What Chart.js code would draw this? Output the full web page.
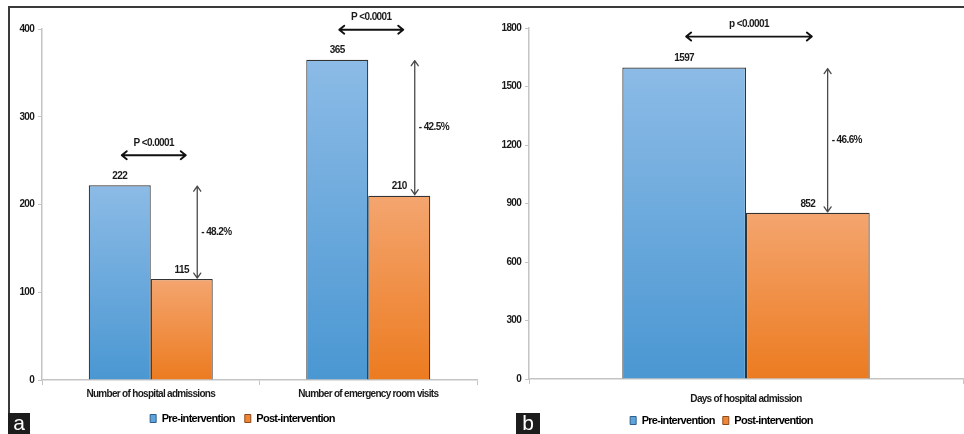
<!DOCTYPE html>
<html>
<head>
<meta charset="utf-8">
<script src="https://cdn.jsdelivr.net/npm/chart.js@4.4.0/dist/chart.umd.min.js"></script>
<style>
    body { margin: 0; background: #fff; overflow: hidden; }
    #frame { position: absolute; left: 8px; top: 6px; width: 956px; height: 428px; border-top: 2px solid #3a3a3a; border-left: 2px solid #3a3a3a; box-sizing: border-box; }
    .panel { position: absolute; top: 0; }
    #panelA { left: 0; width: 480px; height: 434px; }
    #panelB { left: 480px; width: 484px; height: 436px; }
    .tag { position: absolute; top: 413px; height: 21px; background: #1c1c1c; color: #fff; font: 21px 'Liberation Sans', Arial, sans-serif; line-height: 19px; text-align: center; }
</style>
</head>
<body>
<div id="frame"></div>
<div class="panel" id="panelA"><canvas id="chartA"></canvas></div>
<div class="panel" id="panelB"><canvas id="chartB"></canvas></div>
<div class="tag" style="left:8px;width:22px;">a</div>
<div class="tag" style="left:516px;width:24px;">b</div>
<script>
// Panel a data
const categoriesA = ['Number of hospital admissions', 'Number of emergency room visits'];
const preA = [222, 365];
const postA = [115, 210];
const pValuesA = ['P <0.0001', 'P <0.0001'];
const changesA = ['- 48.2%', '- 42.5%'];
const ticksA = [0, 100, 200, 300, 400];

// Panel b data
const categoriesB = ['Days of hospital admission'];
const preB = [1597];
const postB = [852];
const pValuesB = ['p <0.0001'];
const changesB = ['- 46.6%'];
const ticksB = [0, 300, 600, 900, 1200, 1500, 1800];

const seriesNames = ['Pre-intervention', 'Post-intervention'];

const FONT = "'Liberation Sans', Arial, sans-serif";

// vertical gradient per bar, from its top down to zero
function barGradient(top, bottom) {
    return function(ctx) {
        const chart = ctx.chart;
        if (!chart.chartArea || ctx.type !== 'data') return bottom;
        const y = chart.scales.y;
        const g = chart.ctx.createLinearGradient(0, y.getPixelForValue(ctx.raw), 0, y.getPixelForValue(0));
        g.addColorStop(0, top);
        g.addColorStop(1, bottom);
        return g;
    };
}

function drawArrow(c, x1, y1, x2, y2, color, width, head, half) {
    const ang = Math.atan2(y2 - y1, x2 - x1);
    c.save();
    c.strokeStyle = color;
    c.lineWidth = width;
    c.lineCap = 'round';
    c.lineJoin = 'round';
    c.beginPath();
    c.moveTo(x1, y1);
    c.lineTo(x2, y2);
    [[x1, y1, ang + Math.PI], [x2, y2, ang]].forEach(([x, y, a]) => {
        c.moveTo(x - head * Math.cos(a) - half * Math.sin(a), y - head * Math.sin(a) + half * Math.cos(a));
        c.lineTo(x, y);
        c.lineTo(x - head * Math.cos(a) + half * Math.sin(a), y - head * Math.sin(a) - half * Math.cos(a));
    });
    c.stroke();
    c.restore();
}

// squeeze the text a little, the original uses a narrow font
const tightText = {
    id: 'tightText',
    beforeLayout(chart) { chart.ctx.letterSpacing = '-0.7px'; },
    beforeDraw(chart) { chart.ctx.letterSpacing = '-0.7px'; }
};

// value labels, p-value arrows and change arrows
const comparisonMarks = {
    id: 'comparisonMarks',
    afterDatasetsDraw(chart, args, opts) {
        const c = chart.ctx;
        const pre = chart.getDatasetMeta(0).data;
        const post = chart.getDatasetMeta(1).data;
        c.save();
        c.fillStyle = '#1a1a1a';
        c.letterSpacing = '-0.6px';
        pre.forEach((bar, i) => {
            const nxt = post[i];
            c.font = 'bold 10px ' + FONT;
            c.textAlign = 'center';
            c.textBaseline = 'middle';
            c.fillText(chart.data.datasets[0].data[i], bar.x, bar.y - 9);
            c.fillText(chart.data.datasets[1].data[i], nxt.x, nxt.y - 9);

            const hy = bar.y - opts.pGap;
            drawArrow(c, bar.x + 2, hy, nxt.x + 4, hy, '#111', 1.9, 5, 4);
            c.fillText(opts.pValues[i], (bar.x + nxt.x) / 2 + 3, hy - 12);

            const vx = nxt.x + nxt.width * opts.offset;
            drawArrow(c, vx, bar.y + 1, vx, nxt.y - 1, '#4a4a4a', 1.3, 5, 3.5);
            c.textAlign = 'left';
            c.fillText(opts.changes[i], vx + 4, (bar.y + nxt.y) / 2);
        });
        c.restore();
    }
};

function makeChart(id, categories, pre, post, ticks, marks, yWidth, xHeight, legendPad, pad, xPad) {
    const ctx = document.getElementById(id).getContext('2d');
    return new Chart(ctx, {
        type: 'bar',
        data: {
            labels: categories,
            datasets: [{
                label: seriesNames[0],
                data: pre,
                backgroundColor: barGradient('#8cbbe6', '#4a97d2'),
                borderColor: '#333',
                borderWidth: 1.2,
                categoryPercentage: 0.57,
                barPercentage: 1
            }, {
                label: seriesNames[1],
                data: post,
                backgroundColor: barGradient('#f4a56f', '#ec7b20'),
                borderColor: '#333',
                borderWidth: 1.2,
                categoryPercentage: 0.57,
                barPercentage: 1
            }]
        },
        options: {
            responsive: true,
            maintainAspectRatio: false,
            animation: false,
            layout: { padding: pad },
            plugins: {
                legend: {
                    position: 'bottom',
                    labels: {
                        boxWidth: 6,
                        boxHeight: 8,
                        padding: legendPad,
                        color: '#1a1a1a',
                        font: { family: FONT, size: 11, weight: 'bold' },
                        generateLabels: () => [
                            { text: seriesNames[0], fillStyle: '#5da3dc', strokeStyle: '#2e5f8a', lineWidth: 1, datasetIndex: 0 },
                            { text: seriesNames[1], fillStyle: '#ef8637', strokeStyle: '#8a4a1a', lineWidth: 1, datasetIndex: 1 }
                        ]
                    }
                },
                tooltip: { enabled: false },
                comparisonMarks: marks
            },
            scales: {
                x: {
                    afterFit: scale => { scale.height = xHeight; },
                    grid: { drawOnChartArea: false, tickLength: 5, color: '#c4c4c4' },
                    border: { color: '#c4c4c4', width: 1.5 },
                    ticks: { padding: xPad, color: '#1a1a1a', font: { family: FONT, size: 10, weight: 'bold' } }
                },
                y: {
                    min: ticks[0],
                    max: ticks[ticks.length - 1],
                    afterBuildTicks: scale => { scale.ticks = ticks.map(v => ({ value: v })); },
                    afterFit: scale => { scale.width = yWidth; },
                    grid: { drawOnChartArea: false, tickLength: 4, color: '#c4c4c4' },
                    border: { color: '#c4c4c4', width: 1.5 },
                    ticks: {
                        padding: 4,
                        color: '#1a1a1a',
                        font: { family: FONT, size: 10, weight: 'bold' },
                        callback: v => String(v)
                    }
                }
            }
        },
        plugins: [tightText, comparisonMarks]
    });
}

makeChart('chartA', categoriesA, preA, postA, ticksA,
    { pValues: pValuesA, changes: changesA, pGap: 30, offset: 0.25 },
    34, 23, 10, { top: 29, left: 8, right: 3, bottom: 0 }, 3);

makeChart('chartB', categoriesB, preB, postB, ticksB,
    { pValues: pValuesB, changes: changesB, pGap: 31, offset: 0.16 },
    49, 28, 8, { top: 28, left: 0, right: 1, bottom: 0 }, 9);
</script>
</body>
</html>
